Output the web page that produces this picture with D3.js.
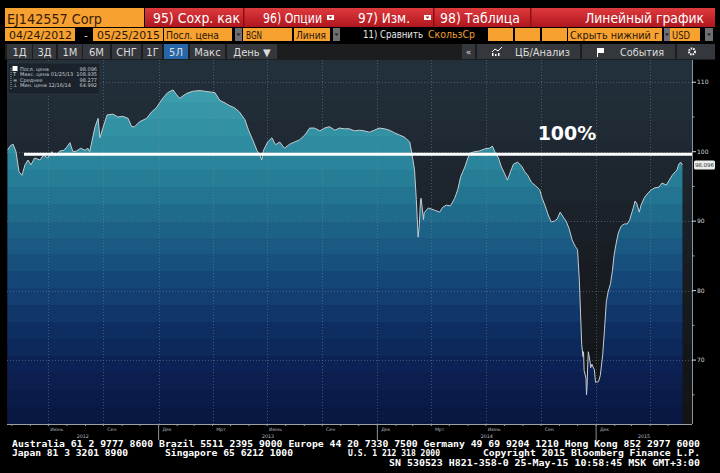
<!DOCTYPE html>
<html>
<head>
<meta charset="utf-8">
<script src="https://cdn.jsdelivr.net/npm/d3@7"></script>
<style>
body { margin: 0; background: #000; }
svg { display: block; }
</style>
</head>
<body>
<svg width="720" height="473"></svg>
<script>
// price history
var dates = [
  "2012-04-24","2012-04-28","2012-05-03","2012-05-08","2012-05-13","2012-05-18","2012-05-23","2012-05-28",
  "2012-06-02","2012-06-08","2012-06-17","2012-06-23","2012-06-30","2012-07-07","2012-07-13","2012-07-20",
  "2012-07-27","2012-08-01","2012-08-06","2012-08-11","2012-08-17","2012-08-24","2012-08-31","2012-09-05",
  "2012-09-08","2012-09-17","2012-09-22","2012-09-25","2012-09-30","2012-10-07","2012-10-17","2012-10-25",
  "2012-11-02","2012-11-11","2012-11-17","2012-11-22","2012-11-30","2012-12-12","2012-12-20","2012-12-28",
  "2013-01-08","2013-01-16","2013-01-25","2013-01-31","2013-02-05","2013-02-17","2013-02-27","2013-03-11",
  "2013-03-19","2013-03-28","2013-04-05","2013-04-13","2013-04-22","2013-04-30","2013-05-08","2013-05-16",
  "2013-05-25","2013-05-31","2013-06-07","2013-06-14","2013-06-19","2013-06-22","2013-06-25","2013-07-02",
  "2013-07-09","2013-07-15","2013-07-22","2013-07-30","2013-08-08","2013-08-16","2013-08-24","2013-09-02",
  "2013-09-10","2013-09-18","2013-09-27","2013-10-05","2013-10-13","2013-10-22","2013-10-30","2013-11-07",
  "2013-11-15","2013-11-24","2013-12-02","2013-12-10","2013-12-19","2013-12-27","2014-01-04","2014-01-13",
  "2014-01-21","2014-01-30","2014-02-07","2014-02-15","2014-02-24","2014-02-28","2014-03-04","2014-03-07",
  "2014-03-10","2014-03-12","2014-03-14","2014-03-15","2014-03-19","2014-03-20","2014-03-27","2014-04-06",
  "2014-04-15","2014-04-20","2014-04-26","2014-05-03","2014-05-10","2014-05-15","2014-05-20","2014-05-27",
  "2014-06-01","2014-06-05","2014-06-12","2014-06-20","2014-06-29","2014-07-07","2014-07-12","2014-07-17",
  "2014-07-22","2014-07-27","2014-08-01","2014-08-06","2014-08-11","2014-08-16","2014-08-23","2014-08-30",
  "2014-09-04","2014-09-09","2014-09-15","2014-09-22","2014-09-29","2014-10-03","2014-10-08","2014-10-13",
  "2014-10-18","2014-10-23","2014-10-28","2014-11-02","2014-11-07","2014-11-12","2014-11-17","2014-11-22",
  "2014-11-27","2014-12-01","2014-12-04","2014-12-06","2014-12-08","2014-12-10","2014-12-11","2014-12-12",
  "2014-12-15","2014-12-16","2014-12-17","2014-12-18","2014-12-19","2014-12-22","2014-12-23","2014-12-25",
  "2014-12-29","2014-12-31","2015-01-05","2015-01-08","2015-01-12","2015-01-15","2015-01-18","2015-01-21",
  "2015-01-25","2015-01-28","2015-01-31","2015-02-03","2015-02-07","2015-02-12","2015-02-17","2015-02-22",
  "2015-02-26","2015-03-04","2015-03-07","2015-03-10","2015-03-14","2015-03-17","2015-03-22","2015-03-27",
  "2015-04-03","2015-04-09","2015-04-16","2015-04-21","2015-04-28","2015-05-03","2015-05-08","2015-05-13",
  "2015-05-16","2015-05-19","2015-05-22","2015-05-25"
];
var values = [
  100.2,100.8,101.1,100.0,97.1,96.6,98.1,98.8,
  98.1,99.1,98.8,99.5,99.1,100.0,99.4,100.1,
  100.2,100.7,101.3,100.0,100.1,100.5,100.2,100.5,
  100.0,103.6,104.8,102.0,103.4,105.3,105.4,105.0,
  105.1,104.8,103.6,103.6,104.3,104.8,105.7,106.3,
  107.7,108.5,108.9,108.2,107.7,108.4,108.7,108.8,
  108.7,108.6,108.5,107.4,107.0,106.6,106.3,105.7,
  104.6,103.1,101.7,100.2,99.5,98.8,100.2,101.4,
  102.0,101.0,101.4,100.5,101.1,101.4,101.7,102.4,
  103.4,103.4,103.0,103.4,103.6,103.1,103.4,103.3,
  103.3,103.0,103.1,103.0,102.8,103.1,103.4,103.3,
  103.1,102.7,102.4,102.1,101.4,99.5,97.4,93.1,
  87.7,89.4,93.1,93.3,90.2,91.2,91.9,91.6,
  91.3,92.0,92.3,92.2,93.3,94.5,96.4,97.8,
  99.1,99.8,100.0,100.1,100.4,100.5,100.8,99.8,
  99.1,97.8,96.9,95.9,97.1,98.2,98.5,97.9,
  97.1,96.6,95.6,95.1,94.5,93.3,92.2,90.9,
  89.9,90.0,90.3,91.3,90.6,90.0,88.9,87.3,
  86.4,85.9,81.5,76.8,72.2,70.5,71.2,68.5,
  67.4,65.0,66.4,69.3,71.2,69.7,68.9,69.4,
  68.6,66.8,66.9,67.8,70.8,74.4,78.4,79.8,
  81.0,82.7,85.1,86.6,88.3,89.3,89.6,89.6,
  90.2,91.9,92.9,92.5,91.3,92.3,93.3,93.9,
  94.5,94.8,94.9,95.5,95.2,95.9,96.6,97.1,
  97.4,98.2,98.5,98.096
];

var yTicks = [110, 100, 90, 80, 70];
var yMinorTicks = [105, 95, 85, 75, 65];
var monthLabels = ["Июнь", "Сен", "Дек", "Мрт"];
var legendNames = ["Посл. цена", "Макс. цена 01/25/13", "Среднее", "Мин. цена 12/16/14"];
var legendValues = ["98.096", "108.935", "98.277", "64.992"];
var lastValue = "98.096";
var refLevel = 100;
var refLabel = "100%";
var footer1 = "Australia 61 2 9777 8600 Brazil 5511 2395 9000 Europe 44 20 7330 7500 Germany 49 69 9204 1210 Hong Kong 852 2977 6000";
var footer2 = ["Japan 81 3 3201 8900", "Singapore 65 6212 1000", "U.S. 1 212 318 2000", "Copyright 2015 Bloomberg Finance L.P."];
var footer3 = "SN 530523 H821-358-0 25-May-15 10:58:45 MSK  GMT+3:00";

var svg = d3.select("svg");
var plot = {left: 7, right: 692, top: 60, bottom: 424};
var parse = d3.timeParse("%Y-%m-%d");
var data = dates.map(function (d, i) { return {date: parse(d), value: values[i]}; });

var x = d3.scaleTime()
    .domain([parse("2012-04-23"), parse("2015-06-10")])
    .range([plot.left, plot.right]);
var y = d3.scaleLinear()
    .domain([60.8, 113.2])
    .range([plot.bottom, plot.top]);

svg.append("rect").attr("width", 720).attr("height", 473).attr("fill", "#000");

var defs = svg.append("defs");

// bloomberg style banded gradient
function bandGradient(id, colors, n, y0, y1) {
    var interp = d3.interpolateRgbBasis(colors);
    var g = defs.append("linearGradient").attr("id", id)
        .attr("gradientUnits", "userSpaceOnUse")
        .attr("x1", 0).attr("x2", 0).attr("y1", y0).attr("y2", y1);
    for (var i = 0; i < n; i++) {
        var c = interp(i / (n - 1));
        g.append("stop").attr("offset", i / n).attr("stop-color", c);
        g.append("stop").attr("offset", (i + 1) / n).attr("stop-color", c);
    }
}
bandGradient("bg", ["#22303b", "#1c252e", "#16191d", "#121416"], 18, plot.top, plot.bottom);
bandGradient("fill", ["#3b9dac", "#2a889d", "#1d6689", "#134377", "#0c2358", "#091743"], 20, 85, plot.bottom);

defs.append("clipPath").attr("id", "clip")
  .append("rect")
    .attr("x", plot.left).attr("y", plot.top)
    .attr("width", plot.right - plot.left).attr("height", plot.bottom - plot.top);

// plot background
svg.append("rect")
    .attr("x", plot.left).attr("y", plot.top)
    .attr("width", plot.right - plot.left).attr("height", plot.bottom - plot.top)
    .attr("fill", "url(#bg)");

var g = svg.append("g").attr("clip-path", "url(#clip)");

var area = d3.area()
    .x(function (d) { return x(d.date); })
    .y0(plot.bottom)
    .y1(function (d) { return y(d.value); });

var line = d3.line()
    .x(function (d) { return x(d.date); })
    .y(function (d) { return y(d.value); });

g.append("path").datum(data).attr("d", area).attr("fill", "url(#fill)");

// grid
var quarters = d3.timeMonth.every(3).range(parse("2012-07-01"), parse("2015-05-01"));
g.selectAll(".vgrid").data(quarters).enter().append("line")
    .attr("x1", function (d) { return Math.round(x(d)) + 0.5; })
    .attr("x2", function (d) { return Math.round(x(d)) + 0.5; })
    .attr("y1", plot.top).attr("y2", plot.bottom)
    .attr("stroke", "#7c8792").attr("stroke-opacity", 0.5)
    .attr("stroke-dasharray", "1,2");
g.selectAll(".hgrid").data(yTicks).enter().append("line")
    .attr("x1", plot.left).attr("x2", plot.right)
    .attr("y1", function (d) { return Math.round(y(d)) + 0.5; })
    .attr("y2", function (d) { return Math.round(y(d)) + 0.5; })
    .attr("stroke", "#7c8792").attr("stroke-opacity", 0.5)
    .attr("stroke-dasharray", "1,2");

g.append("path").datum(data).attr("d", line)
    .attr("fill", "none").attr("stroke", "#c4ccd2").attr("stroke-width", 1);

// right axis
svg.append("line")
    .attr("x1", plot.right + 0.5).attr("x2", plot.right + 0.5)
    .attr("y1", plot.top).attr("y2", plot.bottom)
    .attr("stroke", "#8a939b");
svg.selectAll(".ytick").data(yTicks).enter().append("line")
    .attr("x1", plot.right).attr("x2", plot.right + 4)
    .attr("y1", function (d) { return y(d); }).attr("y2", function (d) { return y(d); })
    .attr("stroke", "#d8d8d8");
svg.selectAll(".yminor").data(yMinorTicks).enter().append("line")
    .attr("x1", plot.right).attr("x2", plot.right + 2.5)
    .attr("y1", function (d) { return y(d); }).attr("y2", function (d) { return y(d); })
    .attr("stroke", "#9aa0a6");
svg.selectAll(".ylab").data(yTicks).enter().append("text")
    .attr("x", plot.right + 5).attr("y", function (d) { return y(d) + 2; })
    .attr("font-family", "DejaVu Sans").attr("font-size", 6)
    .attr("fill", "#d8d8d8")
    .text(function (d) { return d; });

// last price tag
var lastY = y(values[values.length - 1]);
svg.append("rect")
    .attr("x", plot.right + 2).attr("y", lastY - 4.5)
    .attr("width", 21).attr("height", 9).attr("rx", 1.5)
    .attr("fill", "#ececec");
svg.append("text")
    .attr("x", plot.right + 12.5).attr("y", lastY + 2)
    .attr("text-anchor", "middle")
    .attr("font-family", "DejaVu Sans").attr("font-size", 5.5)
    .attr("fill", "#1a2a36")
    .text(lastValue);

// bottom axis
svg.append("line")
    .attr("x1", plot.left).attr("x2", plot.right)
    .attr("y1", plot.bottom + 0.5).attr("y2", plot.bottom + 0.5)
    .attr("stroke", "#9aa1a8");
var months = d3.timeMonth.range(parse("2012-05-01"), parse("2015-06-01"));
svg.selectAll(".xtick").data(months).enter().append("line")
    .attr("x1", function (d) { return x(d); }).attr("x2", function (d) { return x(d); })
    .attr("y1", plot.bottom).attr("y2", plot.bottom + 2)
    .attr("stroke", "#9aa1a8");
var labelMonths = d3.timeMonth.every(3).range(parse("2012-06-01"), parse("2015-04-01"));
svg.selectAll(".mlab").data(labelMonths).enter().append("text")
    .attr("x", function (d) { return x(d3.timeDay.offset(d, 14)); })
    .attr("y", plot.bottom + 7)
    .attr("text-anchor", "middle")
    .attr("font-family", "DejaVu Sans").attr("font-size", 4.6)
    .attr("fill", "#b8bec4")
    .text(function (d, i) { return monthLabels[i % 4]; });
var yearStarts = [parse("2013-01-01"), parse("2014-01-01"), parse("2015-01-01")];
svg.selectAll(".ysep").data(yearStarts).enter().append("line")
    .attr("x1", function (d) { return x(d); }).attr("x2", function (d) { return x(d); })
    .attr("y1", plot.bottom).attr("y2", plot.bottom + 16)
    .attr("stroke", "#8a9096");
var yearSpans = [2012, 2013, 2014, 2015].map(function (yr) {
    var a = d3.max([x.domain()[0], new Date(yr, 0, 1)]);
    var b = d3.min([x.domain()[1], new Date(yr + 1, 0, 1)]);
    return {year: yr, mid: (x(a) + x(b)) / 2};
});
svg.selectAll(".yrlab").data(yearSpans).enter().append("text")
    .attr("x", function (d) { return d.mid; })
    .attr("y", plot.bottom + 14)
    .attr("text-anchor", "middle")
    .attr("font-family", "DejaVu Sans").attr("font-size", 4.8)
    .attr("fill", "#b8bec4")
    .text(function (d) { return d.year; });

// legend box
var leg = svg.append("g");
leg.append("rect")
    .attr("x", 8).attr("y", 63).attr("width", 92).attr("height", 31)
    .attr("fill", "#1a232b").attr("stroke", "#2b353e");
leg.append("line")
    .attr("x1", 11).attr("x2", 11).attr("y1", 68).attr("y2", 89)
    .attr("stroke", "#9aa").attr("stroke-dasharray", "1,1");
var icons = ["", "T", "=", "⊥"];
legendNames.forEach(function (name, i) {
    var ly = 70.5 + i * 5.6;
    if (i === 0) {
        leg.append("rect").attr("x", 12.5).attr("y", ly - 4.5).attr("width", 5).attr("height", 5).attr("fill", "#fff");
    } else {
        leg.append("text").attr("x", 13).attr("y", ly)
            .attr("font-family", "DejaVu Sans").attr("font-size", 5)
            .attr("fill", "#e0e0e0").text(icons[i]);
    }
    leg.append("text").attr("x", 20).attr("y", ly)
        .attr("font-family", "DejaVu Sans").attr("font-size", 5)
        .attr("fill", "#c8ccd0").text(name);
    leg.append("text").attr("x", 97).attr("y", ly)
        .attr("text-anchor", "end")
        .attr("font-family", "DejaVu Sans").attr("font-size", 5)
        .attr("fill", "#c8ccd0").text(legendValues[i]);
});

// 100% annotation
svg.append("line")
    .attr("x1", 24).attr("x2", plot.right)
    .attr("y1", y(refLevel) + 2.5).attr("y2", y(refLevel) + 2.5)
    .attr("stroke", "#ffffff").attr("stroke-width", 3);
svg.append("text")
    .attr("x", 567).attr("y", 140)
    .attr("text-anchor", "middle")
    .attr("font-family", "DejaVu Sans").attr("font-weight", "bold").attr("font-size", 19)
    .attr("fill", "#ffffff")
    .text(refLabel);

// ---- terminal header ----
var hdr = svg.append("g");
var redGrad = defs.append("linearGradient").attr("id", "red").attr("x1", 0).attr("x2", 0).attr("y1", 0).attr("y2", 1);
redGrad.append("stop").attr("offset", 0).attr("stop-color", "#de3a3e");
redGrad.append("stop").attr("offset", 1).attr("stop-color", "#b0161e");

function box(x0, y0, w, h, fill) {
    return hdr.append("rect").attr("x", x0).attr("y", y0).attr("width", w).attr("height", h).attr("fill", fill);
}
function label(txt, x0, y0, size, fill, len, anchor) {
    var t = hdr.append("text").attr("x", x0).attr("y", y0)
        .attr("font-family", "DejaVu Sans").attr("font-size", size)
        .attr("fill", fill).attr("text-anchor", anchor || "start")
        .text(txt);
    if (len) t.attr("textLength", len).attr("lengthAdjust", "spacingAndGlyphs");
    return t;
}
function dropArrow(x0, y0, w, h) {
    box(x0, y0, w, h, "#6d6f72");
    hdr.append("path")
        .attr("d", "M" + (x0 + w / 2 - 2) + "," + (y0 + h / 2 - 1) + "h4l-2,2.5z")
        .attr("fill", "#222");
}
function whiteArrow(x0, y0) {
    box(x0, y0, 7, 5, "#ffffff");
    hdr.append("path").attr("d", "M" + (x0 + 1.5) + "," + (y0 + 1.5) + "h4l-2,2.2z").attr("fill", "#b0161e");
}

// row 1
box(5, 8, 139, 19, "#f7a131");
label("EJ142557 Corp", 7, 23.5, 14, "#3b1d05", 95);
box(145, 8, 570, 19, "url(#red)");
[243, 433, 530].forEach(function (sx) { box(sx, 8, 1.5, 19, "#8c0f14"); });
label("95) Сохр. как", 153, 23, 13.5, "#ffffff", 87);
label("96) Опции", 263, 23, 13.5, "#ffffff", 59);
whiteArrow(327, 15);
label("97) Изм.", 358, 23, 13.5, "#ffffff", 52);
whiteArrow(424, 15);
label("98) Таблица", 440, 23, 13.5, "#ffffff", 80);
label("Линейный график", 704, 23, 13.5, "#ffffff", 119, "end");

// row 2
box(5, 28, 70, 13, "#f7a131");
label("04/24/2012", 9, 38.5, 10.5, "#2a1606", 63);
label("-", 84, 38.5, 10.5, "#dddddd");
box(93, 28, 70, 13, "#f7a131");
label("05/25/2015", 97, 38.5, 10.5, "#2a1606", 63);
box(164, 28, 68, 13, "#f7a131");
label("Посл. цена", 166, 38.5, 10.5, "#2a1606", 53);
dropArrow(235, 28, 7, 13);
box(243, 28, 49, 13, "#f7a131");
label("BGN", 246, 38.5, 10, "#2a1606", 16);
box(294, 28, 36, 13, "#f7a131");
label("Линия", 296, 38.5, 10.5, "#2a1606", 30);
dropArrow(333, 28, 7, 13);
label("11) Сравнить", 363, 38, 10, "#e8e8e8", 60);
label("СкользСр", 428, 38, 10, "#f0a030", 47);
box(488, 28, 25, 13, "#f7a131");
box(515, 28, 25, 13, "#f7a131");
box(542, 28, 25, 13, "#f7a131");
box(568, 28, 94, 13, "#f7a131");
label("Скрыть нижний г", 570, 38.5, 10.5, "#2a1606", 89);
dropArrow(664, 28, 6, 13);
box(670, 28, 30, 13, "#f7a131");
label("USD", 672, 38.5, 10, "#2a1606", 18);
dropArrow(705, 28, 8, 13);

// row 3
box(5, 44, 710, 16, "#1c1d1f");
var periods = ["1Д", "3Д", "1М", "6М", "СНГ", "1Г", "5Л", "Макс", "День ▼"];
var periodX = [7, 33, 58, 83, 112, 143, 164, 190, 227];
var periodW = [25, 23, 24, 27, 29, 19, 24, 35, 50];
periods.forEach(function (p, i) {
    box(periodX[i], 44, periodW[i], 15, p === "5Л" ? "#2766a8" : "#34383c");
    label(p, periodX[i] + periodW[i] / 2, 55.5, 10, "#dcdcdc", null, "middle");
});
box(462, 44, 13, 15, "#34383c");
label("«", 468.5, 55, 9, "#dcdcdc", null, "middle");
box(477, 44, 103, 15, "#34383c");
hdr.append("path").attr("d", "M492,52 l3,-3 l3,2 l4,-4").attr("stroke", "#fff").attr("fill", "none");
box(492, 53, 1.5, 3, "#fff"); box(495, 54, 1.5, 2, "#fff"); box(498, 53, 1.5, 3, "#fff");
label("ЦБ/Анализ", 515, 55.5, 10, "#dcdcdc", 55);
box(582, 44, 93, 15, "#34383c");
hdr.append("path").attr("d", "M597,48 h7 v5 h-6 v4 h-1 z").attr("fill", "#fff");
label("События", 620, 55.5, 10, "#dcdcdc", 44);
box(677, 44, 38, 15, "#34383c");
hdr.append("circle").attr("cx", 692).attr("cy", 51.5).attr("r", 3).attr("fill", "none")
    .attr("stroke", "#fff").attr("stroke-width", 2).attr("stroke-dasharray", "1.5,1");

// ---- footer ----
function foot(txt, x0, y0, len) {
    svg.append("text").attr("x", x0).attr("y", y0)
        .attr("font-family", "DejaVu Sans Mono").attr("font-size", 8.1)
        .attr("font-weight", "bold")
        .attr("fill", "#ffffff")
        .attr("textLength", len).attr("lengthAdjust", "spacingAndGlyphs")
        .text(txt);
}
foot(footer1, 12, 446.5, 688);
foot(footer2[0], 12, 456, 116);
foot(footer2[1], 165, 456, 128);
foot(footer2[2], 348, 456, 92);
foot(footer2[3], 483, 456, 217);
foot(footer3, 389, 465.5, 311);
</script>
</body>
</html>
